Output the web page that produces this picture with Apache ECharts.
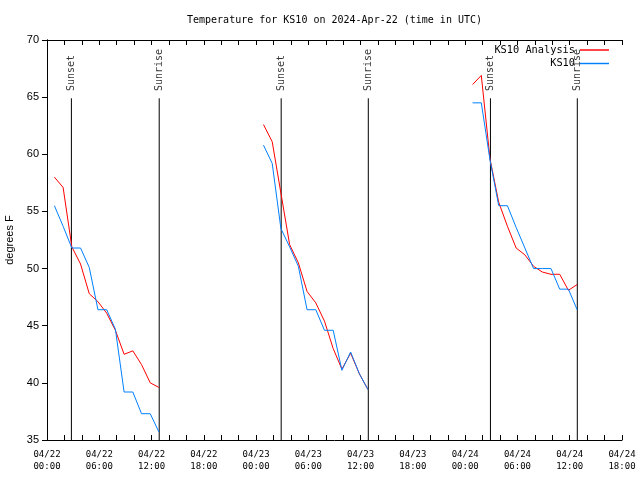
<!DOCTYPE html>
<html>
<head>
<meta charset="utf-8">
<script src="https://cdn.jsdelivr.net/npm/echarts@6/dist/echarts.min.js"></script>
<style>html,body{margin:0;padding:0;background:#fff}#c{width:640px;height:480px}</style>
</head>
<body>
<div id="c"></div>
<script>
// hours since 2024-04-22 00:00 UTC
var obsHours1 = [0.85, 1.85, 2.85, 3.85, 4.85, 5.85, 6.85, 7.85, 8.85, 9.85, 10.85, 11.85, 12.85];
var obsHours2 = [24.85, 25.85, 26.85, 27.85, 28.85, 29.85, 30.85, 31.85, 32.85, 33.85, 34.85, 35.85, 36.85];
var obsHours3 = [48.85, 49.85, 50.85, 51.85, 52.85, 53.85, 54.85, 55.85, 56.85, 57.85, 58.85, 59.85, 60.85];

var analysis1 = [58.0, 57.1, 51.9, 50.4, 47.8, 47.1, 46.1, 44.6, 42.5, 42.8, 41.6, 40.0, 39.6];
var analysis2 = [62.6, 61.1, 56.6, 52.1, 50.5, 48.0, 47.0, 45.4, 43.0, 41.2, 42.6, 40.8, 39.4];
var analysis3 = [66.1, 66.9, 59.6, 55.8, 53.7, 51.8, 51.2, 50.2, 49.7, 49.5, 49.5, 48.1, 48.6];

var observed1 = [55.5, 53.7, 51.8, 51.8, 50.1, 46.4, 46.4, 44.7, 39.2, 39.2, 37.3, 37.3, 35.7];
var observed2 = [60.8, 59.2, 53.5, 51.9, 50.2, 46.4, 46.4, 44.6, 44.6, 41.1, 42.7, 40.8, 39.4];
var observed3 = [64.5, 64.5, 59.5, 55.5, 55.5, 53.6, 51.8, 50.0, 50.0, 50.0, 48.2, 48.2, 46.4];

var sunsetHours = [2.8, 26.88, 50.9];
var sunriseHours = [12.88, 36.88, 60.87];

var xTickLabels = ['04/22\n00:00','04/22\n06:00','04/22\n12:00','04/22\n18:00',
                   '04/23\n00:00','04/23\n06:00','04/23\n12:00','04/23\n18:00',
                   '04/24\n00:00','04/24\n06:00','04/24\n12:00','04/24\n18:00'];

var titleText = 'Temperature for KS10 on 2024-Apr-22 (time in UTC)';
var yName = 'degrees F';
var seriesNames = ['KS10 Analysis', 'KS10'];

function blocks(hs, vs) {
  var out = [];
  for (var b = 0; b < hs.length; b++) {
    if (b > 0) out.push([hs[b][0] - 1, '-']);
    for (var i = 0; i < hs[b].length; i++) out.push([hs[b][i], vs[b][i]]);
  }
  return out;
}
var H = [obsHours1, obsHours2, obsHours3];
var redData = blocks(H, [analysis1, analysis2, analysis3]);
var blueData = blocks(H, [observed1, observed2, observed3]);

var sunLineData = [];
var sunLabelData = [];
var yMin = 35, yMax = 70;
var lineTop = 64.9, labelBase = 65.45;
sunsetHours.forEach(function (t, i) {
  [[t, 'Sunset'], [sunriseHours[i], 'Sunrise']].forEach(function (e) {
    if (sunLineData.length) sunLineData.push([e[0], '-']);
    sunLineData.push([e[0], yMin]);
    sunLineData.push([e[0], lineTop]);
    sunLabelData.push({ value: [e[0], labelBase], name: e[1] });
  });
});

var mono = 'DejaVu Sans Mono';
var sans = 'Liberation Sans';

var chart = echarts.init(document.getElementById('c'), null, { renderer: 'canvas' });
chart.setOption({
  animation: false,
  backgroundColor: '#fff',
  title: {
    text: titleText, left: 182, top: 10,
    textStyle: { fontFamily: mono, fontSize: 10, fontWeight: 'normal', color: '#000' }
  },
  legend: {
    data: seriesNames, orient: 'vertical', right: 26, top: 40,
    align: 'right', itemWidth: 29, itemHeight: 12, itemGap: 3.5,
    textStyle: { fontFamily: mono, fontSize: 10.3, color: '#000' },
    icon: 'path://M0,0L10,0L10,0.5L0,0.5Z'
  },
  grid: { left: 47, right: 18, top: 40, bottom: 40, containLabel: false, outerBoundsMode: 'none' },
  xAxis: [{
    type: 'value', min: 0, max: 66, interval: 2, position: 'bottom',
    axisLine: { show: true, lineStyle: { color: '#000', width: 1 } },
    axisTick: { show: true, inside: true, length: 5, lineStyle: { color: '#000' } },
    splitLine: { show: false },
    axisLabel: {
      showMinLabel: true, showMaxLabel: true, margin: 9,
      fontFamily: mono, fontSize: 9, color: '#000', lineHeight: 12,
      formatter: function (v) { return v % 6 === 0 ? xTickLabels[v / 6] : ''; }
    }
  }, {
    type: 'value', min: 0, max: 66, interval: 2, position: 'top',
    axisLine: { show: true, lineStyle: { color: '#000', width: 1 } },
    axisTick: { show: true, inside: true, length: 5, lineStyle: { color: '#000' } },
    splitLine: { show: false }, axisLabel: { show: false }
  }],
  yAxis: [{
    type: 'value', min: yMin, max: yMax, interval: 5, position: 'left',
    name: yName, nameLocation: 'middle', nameGap: 30, nameRotate: 90,
    nameTextStyle: { fontFamily: sans, fontSize: 11, color: '#000' },
    axisLine: { show: true, lineStyle: { color: '#000', width: 1 } },
    axisTick: { show: false },
    splitLine: { show: false },
    axisLabel: { fontFamily: sans, fontSize: 11, color: '#000', margin: 8 }
  }, {
    type: 'value', min: yMin, max: yMax, interval: 5, position: 'right',
    axisLine: { show: true, lineStyle: { color: '#000', width: 1 } },
    axisTick: { show: true, inside: true, length: 5, lineStyle: { color: '#000' } },
    splitLine: { show: false }, axisLabel: { show: false }
  }],
  series: [{
    name: seriesNames[0], type: 'line', data: redData, symbol: 'none',
    connectNulls: false, lineStyle: { color: '#ff0000', width: 1 }, itemStyle: { color: '#ff0000' }, z: 3
  }, {
    name: seriesNames[1], type: 'line', data: blueData, symbol: 'none',
    connectNulls: false, lineStyle: { color: '#0080ff', width: 1 }, itemStyle: { color: '#0080ff' }, z: 3
  }, {
    name: 'sun', type: 'line', data: sunLineData, symbol: 'none', silent: true,
    connectNulls: false, lineStyle: { color: '#000', width: 1 }, z: 2
  }, {
    name: 'sunLabels', type: 'scatter', data: sunLabelData, symbolSize: 0.01, silent: true,
    label: {
      show: true, position: 'inside', rotate: 90, align: 'left', verticalAlign: 'middle',
      offset: [1, 0],
      fontFamily: mono, fontSize: 10, color: '#000',
      formatter: function (p) { return p.name; }
    }, z: 4
  }]
});
</script>
</body>
</html>
